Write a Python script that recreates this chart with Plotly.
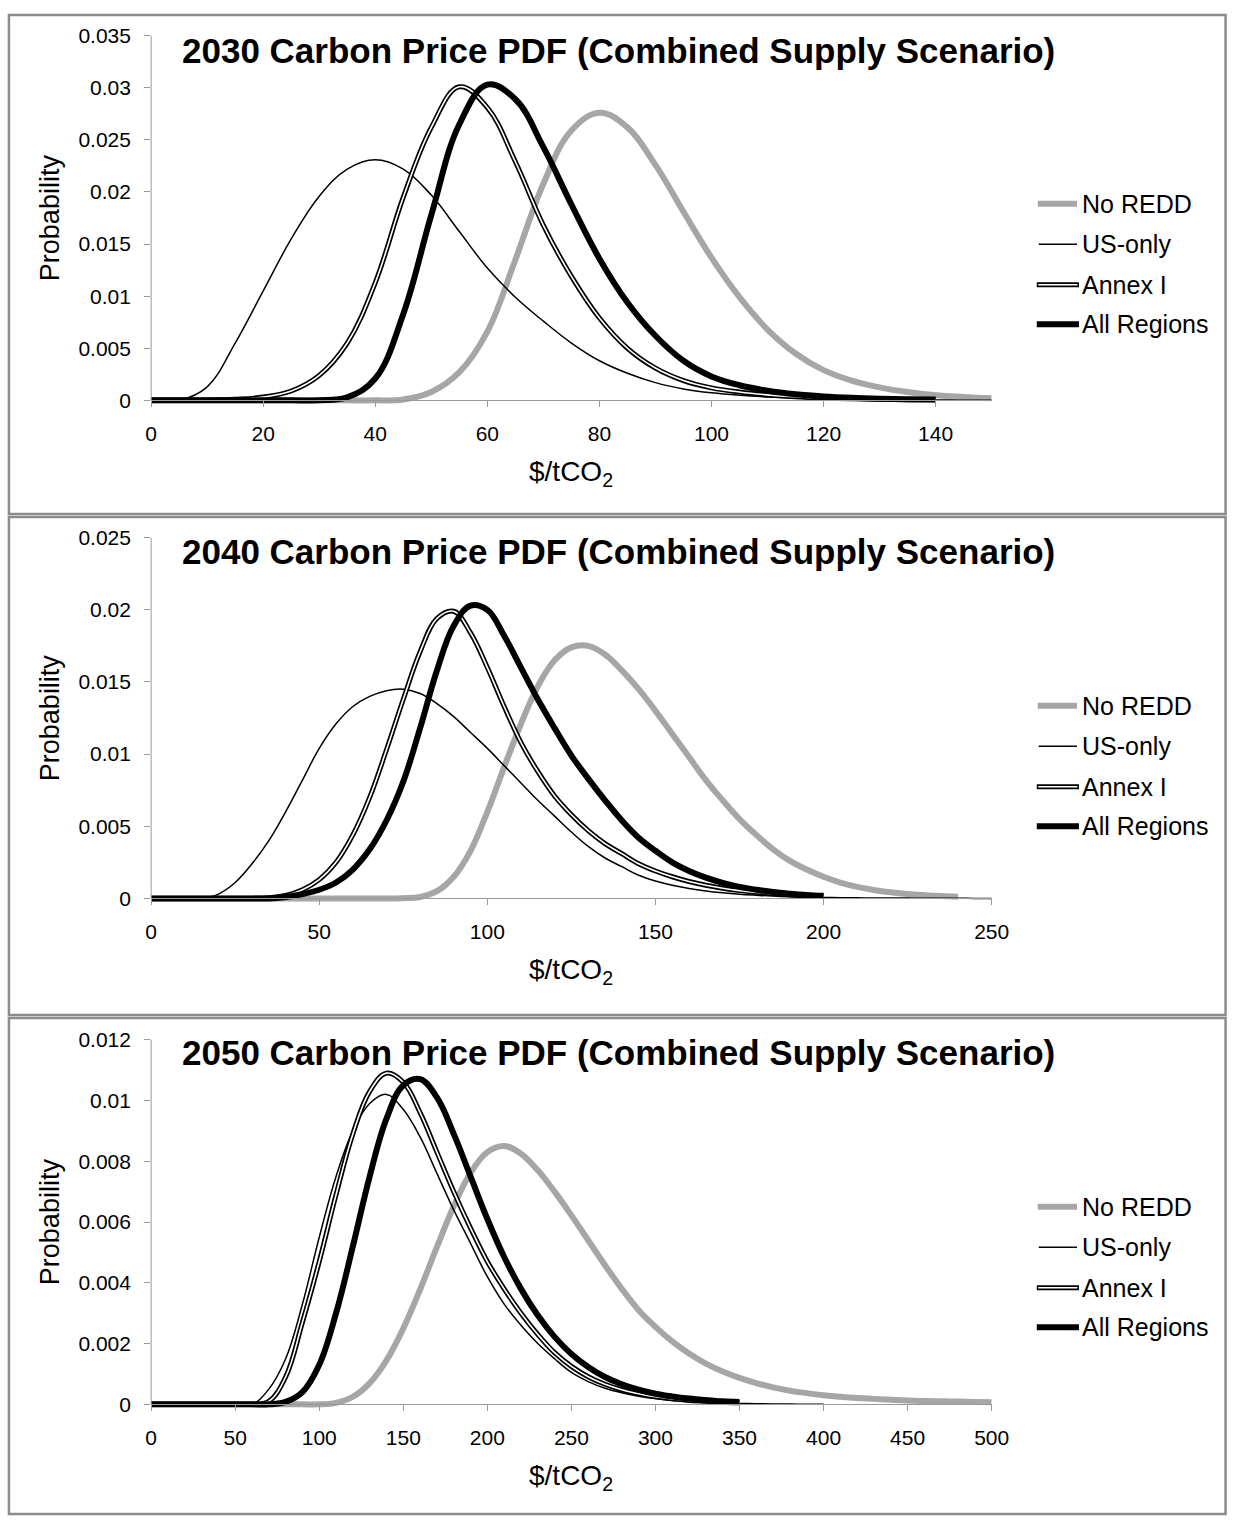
import plotly.graph_objects as go

W, H = 1247, 1523
FONT = "Liberation Sans, Arial, Helvetica, sans-serif"

SERIES = ["No REDD", "US-only", "Annex I", "All Regions"]

# ---------------- 2030 ----------------
price_2030 = list(range(0, 151, 5))
no_redd_2030 = [0, 0, 0, 0, 0, 0, 0, 0, 0, 0.00008,
                0.0008, 0.0027, 0.0066, 0.0135, 0.0208, 0.0259, 0.0276, 0.0262, 0.0226, 0.0181,
                0.0137, 0.0099, 0.0068, 0.0045, 0.0029, 0.0019, 0.00125, 0.0008, 0.0005, 0.00033,
                0.0002]
us_only_2030 = [0, 0, 0.0013, 0.0055, 0.0105, 0.0155, 0.0196, 0.0222, 0.0231, 0.0222,
                0.0197, 0.0162, 0.0127, 0.0099, 0.0076, 0.0055, 0.0038, 0.0026, 0.0017, 0.0011,
                0.00072, 0.00048, 0.00032, 0.00021, 0.00014, 0.00009, 0.00006, 0.00004, 0.00003, 0.00002,
                0.00001]
annex_i_2030 = [0, 0, 0.00002, 0.0001, 0.00032, 0.0009, 0.0024, 0.0055, 0.0113, 0.0195,
                0.0262, 0.0301, 0.0281, 0.0229, 0.0168, 0.0119, 0.0079, 0.0050, 0.0031, 0.0019,
                0.0012, 0.0008, 0.00053, 0.00035, 0.00023, 0.00015, 0.0001, 0.00007, 0.00005, None,
                None]
all_regions_2030 = [0, 0, 0, 0, 0, 0, 0.00002, 0.0003, 0.0021, 0.0083,
                    0.0178, 0.0265, 0.0303, 0.0289, 0.0243, 0.0188, 0.0136, 0.0094, 0.0062, 0.0038,
                    0.0023, 0.00145, 0.00092, 0.00058, 0.00037, 0.00024, 0.00016, 0.00011, 0.00008, None,
                    None]

# ---------------- 2040 ----------------
price_2040 = list(range(0, 251, 5))
no_redd_2040 = [0, 0, 0, 0, 0, 0, 0, 0, 0, 0,
                0, 0, 0, 0, 0, 0.00001, 0.0001, 0.0005, 0.0015, 0.0033,
                0.0060, 0.0091, 0.0121, 0.0147, 0.0165, 0.0174, 0.0175, 0.0169, 0.0158, 0.0145,
                0.0130, 0.0114, 0.0098, 0.0082, 0.0068, 0.0055, 0.0044, 0.0034, 0.0026, 0.0020,
                0.0015, 0.0011, 0.0008, 0.00058, 0.00042, 0.0003, 0.00022, 0.00016, 0.00012, None,
                None]
us_only_2040 = [0, 0, 0, 0, 0.0003, 0.0011, 0.0024, 0.0040, 0.0060, 0.0082,
                0.0104, 0.0121, 0.0133, 0.0140, 0.0144, 0.0145, 0.0142, 0.0135, 0.0126, 0.0115,
                0.0104, 0.0092, 0.0080, 0.0068, 0.0057, 0.0046, 0.0036, 0.0028, 0.0022, 0.0016,
                0.0012, 0.00091, 0.00069, 0.00052, 0.00039, 0.00029, 0.00022, 0.00016, 0.00012, 0.00009,
                0.00007, 0.00005, 0.00004, 0.00003, 0.00002, 0.00002, 0.00001, 0.00001, 0.00001, 0,
                0]
annex_i_2040 = [0, 0, 0, 0, 0, 0, 0, 0.00005, 0.0002, 0.0006,
                0.0013, 0.0025, 0.0044, 0.0070, 0.0103, 0.0138, 0.0171, 0.0194, 0.0199, 0.0184,
                0.0160, 0.0133, 0.0108, 0.0088, 0.0071, 0.0058, 0.0047, 0.0038, 0.0031, 0.0024,
                0.0019, 0.0015, 0.00117, 0.00091, 0.0007, 0.00054, 0.00042, 0.00032, 0.00025, 0.00019,
                0.00015, None, None, None, None, None, None, None, None, None,
                None]
all_regions_2040 = [0, 0, 0, 0, 0, 0, 0, 0, 0.0001, 0.0003,
                    0.0006, 0.0011, 0.0020, 0.0034, 0.0054, 0.0081, 0.0118, 0.0158, 0.0189, 0.0203,
                    0.0200, 0.0182, 0.0160, 0.0138, 0.0118, 0.0099, 0.0083, 0.0068, 0.0054, 0.0042,
                    0.0033, 0.0025, 0.0019, 0.00144, 0.00108, 0.0008, 0.0006, 0.00044, 0.00033, 0.00024,
                    0.00018, None, None, None, None, None, None, None, None, None,
                    None]

# ---------------- 2050 ----------------
price_2050 = list(range(0, 501, 10))
no_redd_2050 = [0, 0, 0, 0, 0, 0, 0, 0, 0, 0,
                0, 0.00005, 0.00025, 0.0007, 0.00145, 0.0025, 0.00378, 0.00518, 0.00652, 0.00762,
                0.0083, 0.0085, 0.00825, 0.0077, 0.007, 0.00622, 0.0054, 0.00458, 0.0038, 0.0031,
                0.00255, 0.00207, 0.00167, 0.00134, 0.00108, 0.00087, 0.0007, 0.00056, 0.00045, 0.00037,
                0.0003, 0.00025, 0.00021, 0.00018, 0.00015, 0.00013, 0.00011, 0.0001, 0.00009, 0.00008,
                0.00007]
us_only_2050 = [0, 0, 0, 0, 0, 0, 0, 0.0005, 0.0015, 0.0033,
                0.0055, 0.0075, 0.0090, 0.0099, 0.0102, 0.0097, 0.0088, 0.0076, 0.0064, 0.0053,
                0.0042, 0.0033, 0.0026, 0.0020, 0.0015, 0.00105, 0.00075, 0.00053, 0.00038, 0.00027,
                0.00019, 0.00013, 0.00009, 0.00006, 0.00004, 0.00003, 0.00002, 0.00001, 0.00001, 0,
                0, None, None, None, None, None, None, None, None, None,
                None]
annex_i_2050 = [0, 0, 0, 0, 0, 0, 0, 0.0001, 0.0009, 0.0027,
                0.0047, 0.0069, 0.0089, 0.0103, 0.0109, 0.0106, 0.0096, 0.0083, 0.0070, 0.0058,
                0.0047, 0.0038, 0.0030, 0.0023, 0.0017, 0.00125, 0.00091, 0.00066, 0.00048, 0.00035,
                0.00025, 0.00018, 0.00013, 0.0001, 0.00007, 0.00005, None, None, None, None,
                None, None, None, None, None, None, None, None, None, None,
                None]
all_regions_2050 = [0, 0, 0, 0, 0, 0, 0, 0, 0.00008, 0.0004,
                    0.0013, 0.0030, 0.0052, 0.0075, 0.0094, 0.0105, 0.0107, 0.0101, 0.0089, 0.0075,
                    0.0061, 0.00485, 0.0038, 0.00293, 0.00222, 0.00166, 0.00123, 0.0009, 0.00066, 0.00048,
                    0.00035, 0.00026, 0.00019, 0.00014, 0.0001, 0.00008, None, None, None, None,
                    None, None, None, None, None, None, None, None, None, None,
                    None]

# tick values / labels
x_ticks_2030 = [0, 20, 40, 60, 80, 100, 120, 140]
x_ticks_2040 = [0, 50, 100, 150, 200, 250]
x_ticks_2050 = [0, 50, 100, 150, 200, 250, 300, 350, 400, 450, 500]
y_ticks_2030 = [0, 0.005, 0.01, 0.015, 0.02, 0.025, 0.03, 0.035]
y_labels_2030 = ["0", "0.005", "0.01", "0.015", "0.02", "0.025", "0.03", "0.035"]
y_ticks_2040 = [0, 0.005, 0.01, 0.015, 0.02, 0.025]
y_labels_2040 = ["0", "0.005", "0.01", "0.015", "0.02", "0.025"]
y_ticks_2050 = [0, 0.002, 0.004, 0.006, 0.008, 0.01, 0.012]
y_labels_2050 = ["0", "0.002", "0.004", "0.006", "0.008", "0.01", "0.012"]

TITLE = "{} Carbon Price PDF (Combined Supply Scenario)"

# ---------------- styling ----------------
GRAY = "#a6a6a6"
AXIS = "#9a9a9a"
BOX = "#8c8c8c"
PLOT_L, PLOT_R = 148, 1005
PAD = 5  # px of room below the zero line so thick lines aren't clipped
SMOOTH = 1.1


def fx(p):
    """page x pixel -> paper fraction"""
    return p / W


def fy(p):
    """page y pixel -> paper fraction"""
    return 1 - p / H


panels = [
    dict(year="2030", top=24, zero=393, ymax=0.035, xmax=150, box=(3, 508), title_y=39,
         x=price_2030, data=[no_redd_2030, us_only_2030, annex_i_2030, all_regions_2030],
         xt=x_ticks_2030, yt=y_ticks_2030, yl=y_labels_2030),
    dict(year="2040", top=532, zero=897, ymax=0.025, xmax=250, box=(511, 1015), title_y=546,
         x=price_2040, data=[no_redd_2040, us_only_2040, annex_i_2040, all_regions_2040],
         xt=x_ticks_2040, yt=y_ticks_2040, yl=y_labels_2040),
    dict(year="2050", top=1040, zero=1409, ymax=0.012, xmax=500, box=(1018, 1520), title_y=1053,
         x=price_2050, data=[no_redd_2050, us_only_2050, annex_i_2050, all_regions_2050],
         xt=x_ticks_2050, yt=y_ticks_2050, yl=y_labels_2050),
]

fig = go.Figure()
shapes, annotations = [], []
layout = {}
tick_font = dict(family=FONT, size=21, color="black")

for i, p in enumerate(panels):
    sfx = "" if i == 0 else str(i + 1)
    xa, ya = "x" + sfx, "y" + sfx
    no_redd, us_only, annex_i, all_regions = p["data"]

    common = dict(x=p["x"], xaxis=xa, yaxis=ya, mode="lines", showlegend=False,
                  hoverinfo="skip", connectgaps=False)
    fig.add_trace(go.Scatter(y=no_redd, name=SERIES[0],
                             line=dict(color=GRAY, width=6, shape="spline", smoothing=SMOOTH), **common))
    fig.add_trace(go.Scatter(y=us_only, name=SERIES[1],
                             line=dict(color="black", width=1.5, shape="spline", smoothing=SMOOTH), **common))
    fig.add_trace(go.Scatter(y=annex_i, name=SERIES[2],
                             line=dict(color="black", width=5, shape="spline", smoothing=SMOOTH), **common))
    fig.add_trace(go.Scatter(y=annex_i, name=SERIES[2],
                             line=dict(color="white", width=1.6, shape="spline", smoothing=SMOOTH), **common))
    fig.add_trace(go.Scatter(y=all_regions, name=SERIES[3],
                             line=dict(color="black", width=6, shape="spline", smoothing=SMOOTH), **common))

    ppu = (p["zero"] - p["top"]) / p["ymax"]
    layout["xaxis" + sfx] = dict(
        domain=[fx(PLOT_L), fx(PLOT_R)], range=[0, p["xmax"]], anchor="free",
        position=fy(p["zero"]), tickmode="array", tickvals=p["xt"],
        ticktext=[str(v) for v in p["xt"]], ticks="outside", ticklen=6, tickcolor=AXIS,
        showline=True, linecolor=AXIS, linewidth=1, showgrid=False, zeroline=False,
        tickfont=tick_font, ticklabelstandoff=8, fixedrange=True)
    layout["yaxis" + sfx] = dict(
        domain=[fy(p["zero"] + PAD), fy(p["top"])], range=[-PAD / ppu, p["ymax"]],
        anchor=xa, tickmode="array", tickvals=p["yt"], ticktext=p["yl"],
        ticks="outside", ticklen=6, tickcolor=AXIS, showline=False, showgrid=False,
        zeroline=False, tickfont=tick_font, ticklabelstandoff=9, fixedrange=True)

    # y axis line (stops at the zero line)
    shapes.append(dict(type="line", xref="paper", yref="paper", x0=fx(PLOT_L), x1=fx(PLOT_L),
                       y0=fy(p["zero"]), y1=fy(p["top"]), line=dict(color=AXIS, width=1)))
    # panel frame
    b0, b1 = p["box"]
    shapes.append(dict(type="rect", xref="paper", yref="paper", x0=fx(3), x1=fx(1243.5),
                       y0=fy(b1), y1=fy(b0), line=dict(color=BOX, width=2.5), layer="below"))

    # title
    annotations.append(dict(text="<b>" + TITLE.format(p["year"]) + "</b>", xref="paper", yref="paper",
                            x=fx(177), y=fy(p["title_y"]), xanchor="left", yanchor="middle",
                            showarrow=False, font=dict(family=FONT, size=35, color="black")))
    # axis titles
    annotations.append(dict(text="Probability", xref="paper", yref="paper", x=fx(45),
                            y=fy((p["top"] + p["zero"]) / 2), textangle=-90, xanchor="center",
                            yanchor="middle", showarrow=False,
                            font=dict(family=FONT, size=27, color="black")))
    annotations.append(dict(text="$/tCO<sub>2</sub>", xref="paper", yref="paper",
                            x=fx((PLOT_L + PLOT_R) / 2), y=fy(p["zero"] + 74), xanchor="center",
                            yanchor="middle", showarrow=False,
                            font=dict(family=FONT, size=28, color="black")))

    # legend
    off = b0 - 3
    leg_y = [194, 235, 276, 316]
    for k, name in enumerate(SERIES):
        yy = fy(off + leg_y[k])
        if k == 0:
            shapes.append(dict(type="line", xref="paper", yref="paper", x0=fx(1052), x1=fx(1092),
                               y0=yy, y1=yy, line=dict(color=GRAY, width=6)))
        elif k == 1:
            shapes.append(dict(type="line", xref="paper", yref="paper", x0=fx(1053), x1=fx(1092),
                               y0=yy, y1=yy, line=dict(color="black", width=1.5)))
        elif k == 2:
            shapes.append(dict(type="line", xref="paper", yref="paper", x0=fx(1051), x1=fx(1094),
                               y0=yy, y1=yy, line=dict(color="black", width=5)))
            shapes.append(dict(type="line", xref="paper", yref="paper", x0=fx(1052.5), x1=fx(1092.5),
                               y0=yy, y1=yy, line=dict(color="white", width=1.6)))
        else:
            shapes.append(dict(type="line", xref="paper", yref="paper", x0=fx(1051), x1=fx(1094),
                               y0=yy, y1=yy, line=dict(color="black", width=6)))
        annotations.append(dict(text=name, xref="paper", yref="paper", x=fx(1095), y=yy,
                                xanchor="left", yanchor="middle", showarrow=False,
                                font=dict(family=FONT, size=25, color="black")))

fig.update_layout(
    width=W, height=H, margin=dict(l=0, r=0, t=0, b=0),
    paper_bgcolor="white", plot_bgcolor="white",
    shapes=shapes, annotations=annotations, showlegend=False,
    **layout,
)

# the figure fills the page edge to edge
fig.write_html("out.html", config={"displayModeBar": False},
               post_script="document.body.style.margin='0';document.body.style.overflow='hidden';")
